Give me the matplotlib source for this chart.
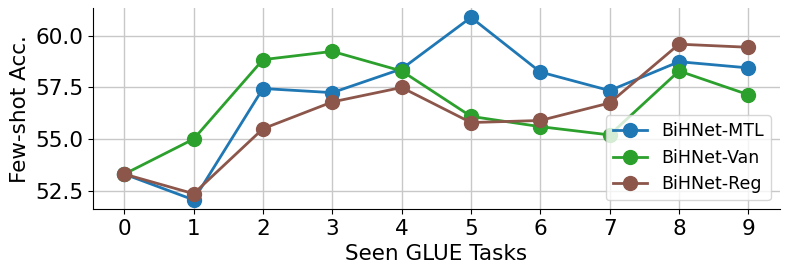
import matplotlib
matplotlib.use("Agg")
import matplotlib.pyplot as plt

tasks = list(range(10))
mtl = [53.3, 52.05, 57.45, 57.25, 58.4, 60.9, 58.25, 57.35, 58.75, 58.45]
van = [53.3, 55.0, 58.85, 59.25, 58.3, 56.1, 55.6, 55.2, 58.3, 57.15]
reg = [53.3, 52.35, 55.5, 56.8, 57.5, 55.8, 55.9, 56.75, 59.6, 59.45]

fig, ax = plt.subplots(figsize=(7.89, 2.75), dpi=100)
ax.plot(tasks, mtl, marker='o', markersize=10, linewidth=2, color='#1f77b4', label='BiHNet-MTL')
ax.plot(tasks, van, marker='o', markersize=10, linewidth=2, color='#2ca02c', label='BiHNet-Van')
ax.plot(tasks, reg, marker='o', markersize=10, linewidth=2, color='#8c564b', label='BiHNet-Reg')

ax.set_xticks(tasks)
ax.set_yticks([52.5, 55.0, 57.5, 60.0])
ax.tick_params(labelsize=15.5)
ax.set_xlabel('Seen GLUE Tasks', fontsize=15.5)
ax.set_ylabel('Few-shot Acc.', fontsize=15.5)
ax.grid(True, color='#c8c8c8', linewidth=1)
ax.set_axisbelow(True)
ax.spines['top'].set_visible(False)
ax.spines['right'].set_visible(False)
ax.legend(loc='lower right', fontsize=12.5)

fig.subplots_adjust(left=0.118, right=0.988, top=0.97, bottom=0.24)
fig.savefig('out.png', dpi=100)
